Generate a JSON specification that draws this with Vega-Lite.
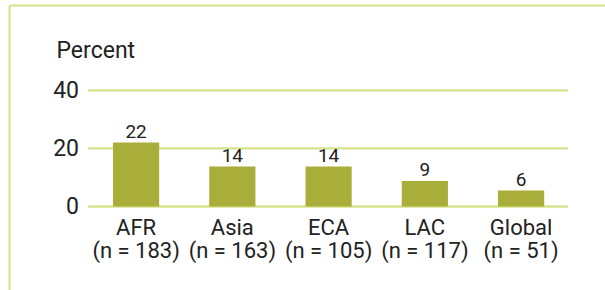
{
  "$schema": "https://vega.github.io/schema/vega-lite/v6.json",
  "width": 596,
  "height": 285,
  "autosize": {"type": "none"},
  "padding": {"left": 9, "top": 5, "right": 0, "bottom": 0},
  "background": "white",
  "config": {"view": {"stroke": null}, "font": "Roboto"},
  "datasets": {
    "regions": [
      {"label": "AFR\n(n = 183)", "percent": 22},
      {"label": "Asia\n(n = 163)", "percent": 13.8},
      {"label": "ECA\n(n = 105)", "percent": 13.8},
      {"label": "LAC\n(n = 117)", "percent": 8.8},
      {"label": "Global\n(n = 51)", "percent": 5.5}
    ],
    "grid": [{"g": 0}, {"g": 20}, {"g": 40}]
  },
  "layer": [
    {
      "data": {"name": "grid"},
      "mark": {"type": "rule", "color": "#d6e38d", "strokeWidth": 2.3},
      "encoding": {
        "y": {
          "field": "g",
          "type": "quantitative",
          "scale": {"domain": [-28.74, 69.36], "nice": false, "zero": false},
          "axis": {
            "orient": "left",
            "values": [0, 20, 40],
            "domain": true,
            "domainColor": "#d6e38d",
            "domainWidth": 2,
            "ticks": false,
            "tickSize": 0,
            "grid": false,
            "labelPadding": -69.5,
            "labelFont": "Roboto",
            "labelFontSize": 23,
            "labelColor": "#222222",
            "labelBaseline": "middle",
            "labelFlush": false,
            "labelOverlap": false,
            "title": "Percent",
            "titleFont": "Roboto",
            "titleAngle": 0,
            "titleAlign": "left",
            "titleBaseline": "alphabetic",
            "titleX": 47,
            "titleY": 52,
            "titleFontSize": 23,
            "titleFontWeight": "normal",
            "titleColor": "#222222"
          }
        },
        "x": {
          "datum": "AFR\n(n = 183)",
          "type": "nominal",
          "bandPosition": -0.541,
          "scale": {
            "type": "band",
            "domain": ["AFR\n(n = 183)", "Asia\n(n = 163)", "ECA\n(n = 105)", "LAC\n(n = 117)", "Global\n(n = 51)"],
            "paddingInner": 0.52,
            "paddingOuter": 0.856,
            "align": 0.631
          },
          "axis": {
            "orient": "top",
            "domain": true,
            "domainColor": "#d6e38d",
            "domainWidth": 2,
            "ticks": false,
            "labels": false,
            "grid": false,
            "title": null
          }
        },
        "x2": {"datum": "Global\n(n = 51)", "bandPosition": 1.515}
      }
    },
    {
      "data": {"name": "regions"},
      "mark": {"type": "bar", "color": "#a9ae3a"},
      "encoding": {
        "x": {
          "field": "label",
          "type": "nominal",
          "sort": null,
          "axis": {
            "orient": "bottom",
            "offset": -83,
            "domain": false,
            "ticks": false,
            "tickSize": 0,
            "grid": false,
            "title": null,
            "labelAngle": 0,
            "labelPadding": 10,
            "labelFont": "Roboto",
            "labelFontSize": 22,
            "labelColor": "#222222",
            "labelBaseline": "top",
            "labelLineHeight": 23.4,
            "labelOverlap": false,
            "labelLimit": 300,
            "labelExpr": "split(datum.value, '\\n')"
          }
        },
        "y": {"field": "percent", "type": "quantitative", "axis": null}
      }
    },
    {
      "data": {"name": "regions"},
      "mark": {"type": "text", "baseline": "alphabetic", "align": "center", "dy": -4.5, "fontSize": 19, "font": "Roboto", "color": "#222222"},
      "encoding": {
        "x": {"field": "label", "type": "nominal", "sort": null, "axis": null},
        "y": {"field": "percent", "type": "quantitative", "axis": null},
        "text": {"field": "percent", "type": "quantitative", "format": ".0f"}
      }
    }
  ],
  "resolve": {"axis": {"x": "independent", "y": "independent"}}
}
